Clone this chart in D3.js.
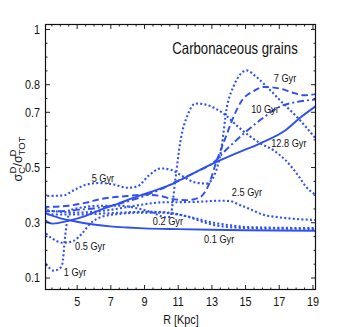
<!DOCTYPE html>
<html>
<head>
<meta charset="utf-8">
<script src="https://cdn.jsdelivr.net/npm/d3@7"></script>
<style>
body { margin: 0; background: #fff; }
svg { display: block; }
text { font-family: "Liberation Sans", Arial, sans-serif; fill: #111; }
</style>
</head>
<body>
<svg width="349" height="327"></svg>
<script>
"use strict"

// [R (kpc), sigma_C / sigma_TOT], one array per age
const gyr01 = [[3.0,0.336],[4,0.315],[5,0.302],[6,0.292],[7,0.285],[8,0.281],[9,0.278],[11,0.275],[13,0.273],[15,0.271],[17,0.27],[19.3,0.269]]
const gyr02 = [[3.0,0.33],[4,0.328],[5,0.328],[6,0.33],[7,0.333],[8,0.336],[9,0.338],[10,0.337],[10.8,0.332],[11.5,0.322],[12.3,0.305],[13,0.292],[13.8,0.284],[15,0.279],[17,0.277],[19.3,0.276]]
const gyr05 = [[3.0,0.27],[3.5,0.243],[4.2,0.226],[4.8,0.232],[5.3,0.258],[5.8,0.295],[6.5,0.32],[7.5,0.33],[9,0.335],[10,0.335],[11,0.328],[12,0.315],[13,0.3],[14,0.29],[15,0.283],[17,0.28],[19.3,0.279]]
const gyr1 = [[3.0,0.16],[3.3,0.14],[3.6,0.125],[3.95,0.13],[4.15,0.15],[4.3,0.24],[4.45,0.31],[4.7,0.345],[5.5,0.355],[6.5,0.36],[7.5,0.36],[8.5,0.352],[9.5,0.335],[10.3,0.318],[10.55,0.32],[10.85,0.45],[11.15,0.59],[11.6,0.69],[12.05,0.73],[12.6,0.727],[13.3,0.71],[13.8,0.69],[14.6,0.645],[15.9,0.586],[16.7,0.56],[17.4,0.525],[18.2,0.465],[18.6,0.43],[19.3,0.395]]
const gyr25 = [[3.0,0.345],[4,0.338],[5,0.335],[6,0.338],[7,0.345],[8,0.355],[9,0.365],[10,0.372],[11.3,0.373],[12.5,0.375],[13.5,0.378],[14.1,0.377],[14.6,0.365],[15.2,0.35],[16.1,0.327],[17,0.318],[18,0.312],[19.3,0.308]]
const gyr5 = [[3.0,0.395],[4.2,0.397],[4.8,0.415],[5.5,0.435],[6.3,0.442],[7.2,0.437],[8,0.425],[8.6,0.43],[9.3,0.47],[10,0.495],[10.6,0.49],[11.2,0.47],[12,0.445],[12.7,0.44],[13.3,0.49],[13.6,0.57],[13.9,0.71],[14.3,0.79],[15.1,0.85],[15.6,0.83],[16.3,0.79],[17.1,0.74],[18.1,0.68],[19.3,0.595]]
const gyr7 = [[3.0,0.355],[4.5,0.36],[5.5,0.37],[6.5,0.385],[8,0.395],[9,0.4],[10,0.395],[10.6,0.385],[11.5,0.38],[12.3,0.39],[12.8,0.43],[13.3,0.52],[13.8,0.6],[14.3,0.68],[14.8,0.74],[15.5,0.775],[16.1,0.79],[17,0.785],[17.8,0.77],[18.5,0.76],[19.3,0.765]]
const gyr10 = [[3.0,0.34],[4,0.34],[5,0.345],[6,0.35],[7,0.36],[8,0.375],[9,0.395],[10,0.42],[11,0.45],[12,0.48],[13.1,0.515],[14,0.57],[15,0.625],[16,0.675],[17.1,0.72],[18,0.735],[19.3,0.745]]
const gyr128 = [[3.0,0.312],[3.6,0.295],[4.5,0.305],[5.5,0.322],[6.4,0.345],[7.4,0.366],[8.35,0.388],[9.4,0.41],[10.55,0.435],[11.15,0.453],[12.9,0.507],[14.5,0.55],[15.9,0.586],[17.4,0.633],[18.3,0.68],[19.3,0.725]]

const series = [gyr01, gyr02, gyr05, gyr1, gyr25, gyr5, gyr7, gyr10, gyr128]
const seriesStyle = ["solid","dot","dot","dot","dot","dot","dash","dashdot","solid"]

const labelText = ["0.1 Gyr","0.2 Gyr","0.5 Gyr","1 Gyr","2.5 Gyr","5 Gyr","7 Gyr","10 Gyr","12.8 Gyr"]
const labelR = [13.46, 10.42, 5.8, 4.9, 15.11, 6.56, 17.37, 16.18, 17.6]
const labelV = [0.24, 0.305, 0.2155, 0.12, 0.41, 0.46, 0.822, 0.71, 0.587]

const xMajor = [5, 7, 9, 11, 13, 15, 17, 19]
const yMajor = [0.1, 0.3, 0.5, 0.7, 0.8, 1]

let svg = d3.select("svg"),
    mLeft = 45, mRight = 316, mTop = 24, mBottom = 290

let x = d3.scaleLinear().domain([3.12, 19.21]).range([mLeft, mRight])
let y = d3.scaleLinear().domain([0.0547, 1.018]).range([mBottom, mTop])

let blue = "#2f50ee"
let dashes = {solid: null, dot: "2,2.3", dash: "6.5,3.5", dashdot: "7,3,2,3"}
let widths = {solid: 1.9, dot: 2.1, dash: 1.9, dashdot: 1.9}

svg.append("clipPath").attr("id", "plot")
  .append("rect")
    .attr("x", mLeft).attr("y", mTop)
    .attr("width", mRight - mLeft).attr("height", mBottom - mTop)

let line = d3.line()
    .x(d => x(d[0]))
    .y(d => y(d[1]))
    .curve(d3.curveMonotoneX)

svg.append("g")
    .attr("clip-path", "url(#plot)")
  .selectAll("path")
  .data(series)
  .enter().append("path")
    .attr("d", line)
    .attr("fill", "none")
    .attr("stroke", blue)
    .attr("stroke-width", (d, i) => widths[seriesStyle[i]])
    .attr("stroke-dasharray", (d, i) => dashes[seriesStyle[i]])

// axes: ticks point inward on all four sides
let xMinor = d3.range(3.5, 19.01, 0.5).filter(v => xMajor.indexOf(v) < 0)
let yMinor = d3.range(0.05, 1.001, 0.05).map(v => +v.toFixed(2)).filter(v => yMajor.indexOf(v) < 0 && v > 0.055)

function addAxis(axis, tx, ty) {
  let g = svg.append("g")
      .attr("transform", "translate(" + tx + "," + ty + ")")
      .call(axis)
  g.select(".domain").remove()
  g.selectAll("line").attr("stroke", "#222")
  g.selectAll("text")
      .attr("font-size", 13.5)
      .attr("font-family", "Liberation Sans, Arial, sans-serif")
      .attr("fill", "#111")
  return g
}

addAxis(d3.axisBottom(x).tickValues(xMajor).tickSize(-5).tickPadding(6).tickFormat(d3.format("d")), 0, mBottom)
addAxis(d3.axisBottom(x).tickValues(xMinor).tickSize(-2.5).tickFormat(""), 0, mBottom)
addAxis(d3.axisTop(x).tickValues(xMajor).tickSize(-5).tickFormat(""), 0, mTop)
addAxis(d3.axisTop(x).tickValues(xMinor).tickSize(-2.5).tickFormat(""), 0, mTop)
addAxis(d3.axisLeft(y).tickValues(yMajor).tickSize(-5).tickPadding(5).tickFormat(d => d === 1 ? "1" : d3.format(".1f")(d)), mLeft, 0)
addAxis(d3.axisLeft(y).tickValues(yMinor).tickSize(-2.5).tickFormat(""), mLeft, 0)
addAxis(d3.axisRight(y).tickValues(yMajor).tickSize(-5).tickFormat(""), mRight, 0)
addAxis(d3.axisRight(y).tickValues(yMinor).tickSize(-2.5).tickFormat(""), mRight, 0)

svg.append("rect")
    .attr("x", mLeft + 0.5).attr("y", mTop + 0.5)
    .attr("width", mRight - mLeft - 1).attr("height", mBottom - mTop - 1)
    .attr("fill", "none")
    .attr("stroke", "#111")
    .attr("stroke-width", 1.2)

svg.selectAll(".age")
  .data(labelText)
  .enter().append("text")
    .attr("class", "age squeeze")
    .attr("x", (d, i) => x(labelR[i]))
    .attr("y", (d, i) => y(labelV[i]))
    .attr("dy", "0.35em")
    .attr("text-anchor", "middle")
    .attr("font-size", 11.5)
    .text(d => d)

svg.append("text")
    .attr("class", "squeeze")
    .attr("x", 235).attr("y", 54)
    .attr("text-anchor", "middle")
    .attr("font-size", 16.5)
    .text("Carbonaceous grains")

svg.append("text")
    .attr("class", "squeeze")
    .attr("x", 181).attr("y", 324)
    .attr("text-anchor", "middle")
    .attr("font-size", 13.5)
    .text("R [Kpc]")

let ylab = svg.append("text")
    .attr("transform", "translate(22,159) rotate(-90)")
    .attr("text-anchor", "middle")
    .attr("font-size", 12.5)
ylab.append("tspan").text("σ")
ylab.append("tspan").attr("dy", 3).attr("font-size", 9.5).text("C")
ylab.append("tspan").attr("dx", -6.5).attr("dy", -9).attr("font-size", 9.5).text("D")
ylab.append("tspan").attr("dy", 6).text("/σ")
ylab.append("tspan").attr("dy", 3).attr("font-size", 9.5).text("TOT")
ylab.append("tspan").attr("dx", -20).attr("dy", -9).attr("font-size", 9.5).text("D")

// the original lettering is narrow, squeeze the glyphs horizontally
svg.selectAll(".squeeze, .tick text").each(function() {
  let w = this.getComputedTextLength()
  if (w > 0) d3.select(this).attr("textLength", w * 0.8).attr("lengthAdjust", "spacingAndGlyphs")
})
</script>
</body>
</html>
